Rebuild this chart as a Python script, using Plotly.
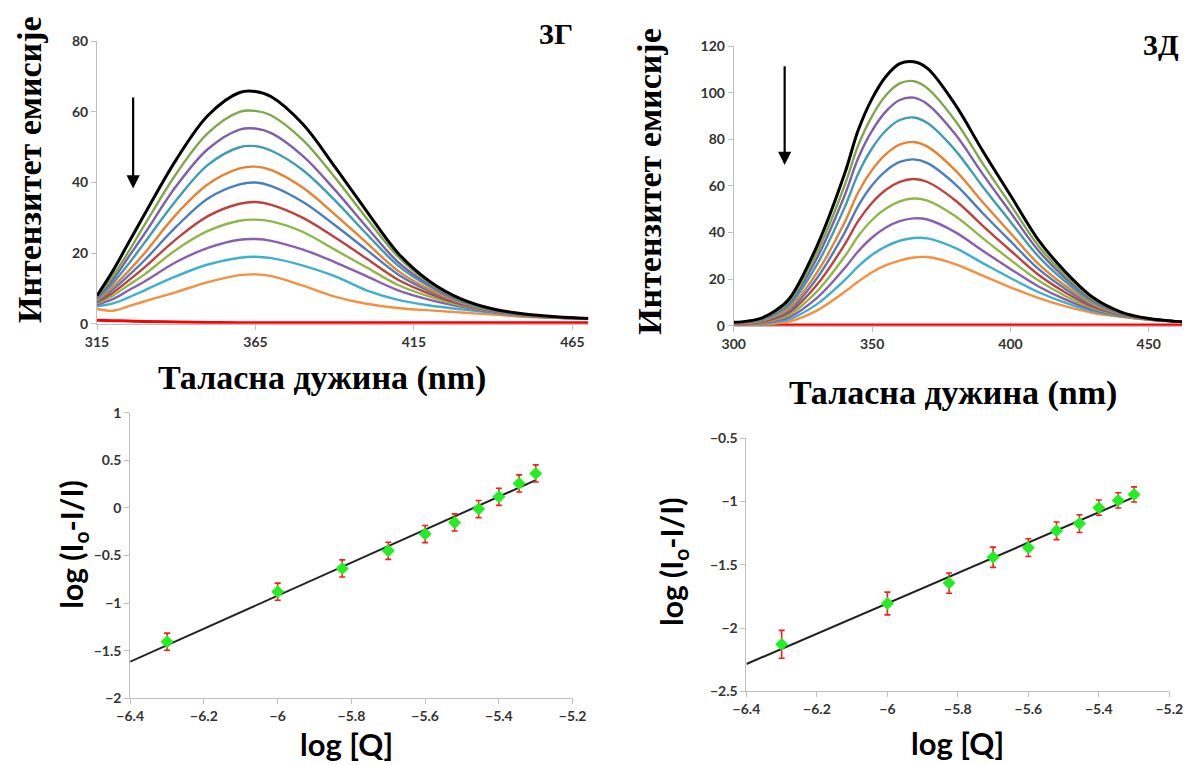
import plotly.graph_objects as go

# ---------------- data: panel 3Г (emission spectra) ----------------
WL_G = [315, 320, 325, 330, 340, 350, 360, 365, 370, 380, 390, 400, 410, 420, 430, 440, 450, 460, 470]
G1 = [8.0, 15.0, 23.0, 31.0, 46.5, 59.0, 65.5, 65.8, 64.3, 56.5, 44.5, 32.0, 20.0, 12.0, 7.0, 4.2, 2.8, 2.0, 1.5]
G2 = [7.7, 13.5, 20.5, 28.0, 42.5, 54.0, 60.0, 60.3, 59.0, 52.0, 41.5, 30.0, 19.0, 11.5, 6.8, 4.1, 2.7, 1.9, 1.5]
G3 = [7.3, 12.5, 19.0, 25.5, 39.0, 49.5, 55.0, 55.3, 54.0, 47.5, 38.0, 27.5, 17.5, 11.0, 6.5, 4.0, 2.6, 1.9, 1.5]
G4 = [7.0, 11.5, 17.0, 23.0, 35.0, 45.0, 50.0, 50.3, 49.0, 43.5, 35.0, 25.5, 16.5, 10.5, 6.3, 3.9, 2.6, 1.9, 1.5]
G5 = [6.7, 10.5, 15.0, 20.0, 31.0, 39.5, 44.0, 44.5, 43.5, 38.5, 31.0, 23.0, 15.0, 9.7, 6.0, 3.8, 2.5, 1.8, 1.5]
G6 = [6.4, 9.7, 13.7, 18.0, 27.5, 35.5, 39.5, 40.0, 39.0, 34.5, 28.0, 21.0, 14.0, 9.2, 5.8, 3.7, 2.5, 1.8, 1.5]
G7 = [6.1, 8.8, 12.3, 16.0, 24.0, 30.5, 34.0, 34.5, 33.7, 30.0, 24.5, 18.5, 12.5, 8.5, 5.5, 3.6, 2.4, 1.8, 1.5]
G8 = [5.8, 8.0, 11.0, 14.0, 21.0, 26.3, 29.2, 29.5, 29.0, 26.0, 21.0, 16.0, 11.0, 7.7, 5.2, 3.5, 2.4, 1.8, 1.5]
G9 = [5.4, 7.0, 9.5, 12.0, 17.5, 21.5, 23.8, 24.0, 23.5, 21.0, 17.5, 13.5, 9.5, 6.8, 4.8, 3.3, 2.3, 1.7, 1.5]
G10 = [5.0, 5.8, 7.5, 9.5, 13.5, 16.8, 18.7, 19.0, 18.6, 16.5, 13.5, 9.5, 6.8, 5.2, 4.1, 3.1, 2.2, 1.7, 1.5]
G11 = [4.2, 3.7, 5.0, 6.4, 9.0, 11.8, 13.8, 14.0, 13.5, 10.8, 7.7, 5.7, 4.5, 3.8, 3.2, 2.6, 2.0, 1.7, 1.5]
G12 = [1.0, 0.9, 0.8, 0.7, 0.5, 0.4, 0.3, 0.3, 0.3, 0.3, 0.3, 0.3, 0.3, 0.3, 0.3, 0.3, 0.3, 0.3, 0.3]

# ---------------- data: panel 3Д (emission spectra) ----------------
WL_D = [300, 305, 310, 315, 320, 330, 340, 345, 350, 355, 360, 365, 370, 380, 390, 400, 410, 420, 430, 440, 450, 460, 465]
D1 = [1.5, 2.0, 3.3, 6.5, 11.5, 34.0, 65.0, 84.0, 97.5, 107.0, 112.5, 113.3, 110.5, 95.0, 75.0, 56.0, 37.0, 23.0, 12.0, 5.9, 3.1, 1.9, 1.6]
D2 = [1.4, 1.9, 3.0, 6.0, 10.5, 31.2, 60.0, 77.5, 90.0, 98.9, 104.0, 105.0, 101.9, 88.1, 69.6, 52.0, 34.5, 21.5, 11.4, 5.7, 3.1, 1.9, 1.6]
D3 = [1.3, 1.8, 2.8, 5.5, 9.7, 28.9, 55.7, 72.0, 83.7, 92.0, 96.9, 97.9, 95.1, 82.3, 65.1, 48.7, 32.4, 20.3, 10.8, 5.5, 3.0, 1.9, 1.6]
D4 = [1.2, 1.6, 2.5, 5.0, 8.7, 26.1, 50.6, 65.4, 76.2, 83.8, 88.3, 89.4, 87.0, 75.4, 59.7, 44.7, 29.9, 18.8, 10.1, 5.3, 3.0, 1.9, 1.6]
D5 = [1.1, 1.4, 2.1, 4.3, 7.5, 22.7, 44.2, 57.3, 66.9, 73.7, 77.8, 78.9, 76.9, 66.8, 53.0, 39.8, 26.7, 17.0, 9.3, 5.1, 2.9, 1.9, 1.6]
D6 = [1.0, 1.3, 1.9, 3.8, 6.6, 20.3, 39.8, 51.5, 60.3, 66.5, 70.3, 71.4, 69.8, 60.8, 48.3, 36.3, 24.5, 15.7, 8.8, 4.9, 2.9, 1.9, 1.6]
D7 = [0.9, 1.1, 1.6, 3.2, 5.7, 17.5, 34.7, 45.0, 52.8, 58.4, 61.8, 63.0, 61.7, 53.9, 42.9, 32.3, 22.0, 14.2, 8.1, 4.7, 2.8, 1.9, 1.6]
D8 = [0.8, 1.0, 1.3, 2.7, 4.7, 14.7, 29.6, 38.5, 45.4, 50.3, 53.4, 54.6, 53.7, 47.1, 37.6, 28.3, 19.5, 12.7, 7.5, 4.5, 2.75, 1.9, 1.6]
D9 = [0.7, 0.8, 1.1, 2.1, 3.7, 11.9, 24.6, 32.0, 37.9, 42.2, 44.9, 46.1, 45.6, 40.2, 32.2, 24.4, 17.0, 11.2, 6.8, 4.3, 2.7, 1.9, 1.6]
D10 = [0.6, 0.7, 0.8, 1.6, 2.8, 9.2, 19.5, 25.5, 30.5, 34.1, 36.5, 37.7, 37.5, 33.4, 26.9, 20.5, 14.5, 9.8, 6.2, 4.1, 2.65, 1.9, 1.6]
D11 = [0.5, 0.5, 0.5, 1.0, 1.8, 6.5, 14.5, 19.0, 23.0, 26.0, 28.0, 29.3, 29.5, 26.5, 21.5, 16.5, 12.0, 8.3, 5.5, 3.9, 2.6, 1.9, 1.6]
D12 = [0.3, 0.3, 0.3, 0.3, 0.3, 0.3, 0.3, 0.3, 0.3, 0.3, 0.3, 0.3, 0.3, 0.3, 0.3, 0.3, 0.3, 0.3, 0.3, 0.3, 0.3, 0.3, 0.3]

CURVE_COLORS = ["#000000", "#7EA84A", "#7E5FA8", "#3D9DB5", "#E8822E", "#4A7EC2",
                "#C0413C", "#8DB848", "#8A5EB0", "#3CB0CF", "#F5903E", "#FF0000"]

# ---------------- data: double-log plots ----------------
LOGQ = [-6.3, -6.0, -5.825, -5.70, -5.60, -5.52, -5.455, -5.40, -5.345, -5.30]
LOG_G = [-1.405, -0.88, -0.635, -0.45, -0.274, -0.152, -0.011, 0.118, 0.258, 0.363]
ERR_G = [0.09, 0.09, 0.09, 0.09, 0.09, 0.09, 0.09, 0.09, 0.09, 0.09]
LOG_D = [-2.127, -1.805, -1.644, -1.44, -1.364, -1.231, -1.174, -1.048, -0.991, -0.944]
ERR_D = [0.11, 0.09, 0.08, 0.08, 0.07, 0.07, 0.07, 0.06, 0.06, 0.06]
FIT_X = [-6.4, -5.3]
FIT_G = [-1.615, 0.293]
FIT_D = [-2.283, -0.965]

G_CURVES = [G1, G2, G3, G4, G5, G6, G7, G8, G9, G10, G11, G12]
D_CURVES = [D1, D2, D3, D4, D5, D6, D7, D8, D9, D10, D11, D12]

fig = go.Figure()

for i in range(len(G_CURVES) - 1, -1, -1):
    fig.add_trace(go.Scatter(x=WL_G, y=G_CURVES[i], mode="lines", xaxis="x", yaxis="y",
                             line=dict(color=CURVE_COLORS[i], width=3 if i in (0, 11) else 2.4,
                                       shape="spline", smoothing=1.0),
                             showlegend=False, hoverinfo="skip"))
for i in range(len(D_CURVES) - 1, -1, -1):
    fig.add_trace(go.Scatter(x=WL_D, y=D_CURVES[i], mode="lines", xaxis="x2", yaxis="y2",
                             line=dict(color=CURVE_COLORS[i], width=3 if i in (0, 11) else 2.4,
                                       shape="spline", smoothing=1.0),
                             showlegend=False, hoverinfo="skip"))

for (yv, ev, fy, xa, ya) in [(LOG_G, ERR_G, FIT_G, "x3", "y3"), (LOG_D, ERR_D, FIT_D, "x4", "y4")]:
    fig.add_trace(go.Scatter(x=FIT_X, y=fy, mode="lines", xaxis=xa, yaxis=ya,
                             line=dict(color="#222222", width=2), showlegend=False))
    fig.add_trace(go.Scatter(x=LOGQ, y=yv, mode="markers", xaxis=xa, yaxis=ya,
                             marker=dict(symbol="diamond", size=10, color="#22EE22"),
                             error_y=dict(type="data", array=ev, visible=True, color="#FF1A1A",
                                          thickness=1.6, width=3),
                             showlegend=False))

TICKFONT = dict(family="Lato", size=14, color="#333333", weight="bold")
AX = dict(showline=True, linecolor="#BFBFBF", linewidth=1, ticks="outside", tickcolor="#BFBFBF",
          ticklen=5, showgrid=False, zeroline=False, tickfont=TICKFONT)

W, H = 1196, 765


def px(x):
    return x / W


def py(y):
    return 1 - y / H


fig.update_layout(
    width=W, height=H, margin=dict(l=0, r=0, t=0, b=0),
    paper_bgcolor="white", plot_bgcolor="white",
    xaxis=dict(AX, domain=[px(85), px(588)], range=[315, 470], tickvals=[315, 365, 415, 465], anchor="y"),
    yaxis=dict(AX, domain=[py(322), py(33)], range=[0, 80], dtick=20, anchor="x"),
    xaxis2=dict(AX, domain=[px(737), 1.0], range=[300, 462], tickvals=[300, 350, 400, 450], anchor="y2"),
    yaxis2=dict(AX, domain=[py(324), py(38)], range=[0, 120], dtick=20, anchor="x2"),
    xaxis3=dict(AX, domain=[px(119), px(572)], range=[-6.4, -5.2], dtick=0.2, anchor="y3"),
    yaxis3=dict(AX, domain=[py(705), py(413)], range=[-2, 1], dtick=0.5, anchor="x3"),
    xaxis4=dict(AX, domain=[px(750), px(1183)], range=[-6.4, -5.2], dtick=0.2, anchor="y4"),
    yaxis4=dict(AX, domain=[py(698), py(439)], range=[-2.5, -0.5], dtick=0.5, anchor="x4"),
)

SERIF = dict(family="Liberation Serif", size=34, color="black", weight="bold")
SANS = dict(family="Lato", size=30, color="black", weight="bold")

annos = [
    dict(text="Интензитет емисије", x=px(16), y=py(164), textangle=-90, font=SERIF),
    dict(text="Интензитет емисије", x=px(650), y=py(176), textangle=-90, font=SERIF),
    dict(text="Таласна дужина (nm)", x=px(315), y=py(377), font=SERIF),
    dict(text="Таласна дужина (nm)", x=px(962), y=py(393), font=SERIF),
    dict(text="3Г", x=px(555), y=py(25), font=dict(SERIF, size=30)),
    dict(text="3Д", x=px(1195), y=py(36), xanchor="right", font=dict(SERIF, size=30)),
    dict(text="log (I<sub>o</sub>-I/I)", x=px(60), y=py(548), textangle=-90, font=SANS),
    dict(text="log (I<sub>o</sub>-I/I)", x=px(675), y=py(565), textangle=-90, font=SANS),
    dict(text="log [Q]", x=px(340), y=py(752), font=dict(SANS, size=31)),
    dict(text="log [Q]", x=px(966), y=py(751), font=dict(SANS, size=31)),
]
for a in annos:
    fig.add_annotation(xref="paper", yref="paper", showarrow=False, xanchor=a.pop("xanchor", "center"),
                       yanchor="middle", **a)

# downward arrows
fig.add_annotation(xref="x", yref="y", x=326.4, y=38.3, ax=326.4, ay=64.5, axref="x", ayref="y",
                   showarrow=True, arrowhead=2, arrowsize=1.2, arrowwidth=2.2, arrowcolor="black", text="")
fig.add_annotation(xref="x2", yref="y2", x=318.4, y=69, ax=318.4, ay=112, axref="x2", ayref="y2",
                   showarrow=True, arrowhead=2, arrowsize=1.2, arrowwidth=2.2, arrowcolor="black", text="")

fig.write_html("out.html", config={"displayModeBar": False},
               post_script="document.body.style.margin='0';document.body.style.overflow='hidden';")
